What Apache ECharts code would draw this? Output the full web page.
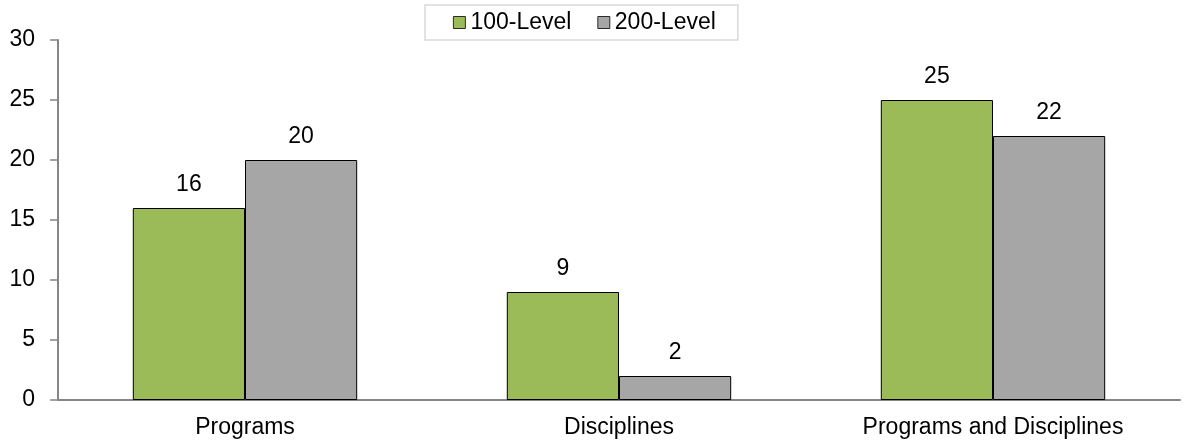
<!DOCTYPE html>
<html>
<head>
<meta charset="utf-8">
<script src="https://cdn.jsdelivr.net/npm/echarts@6/dist/echarts.min.js"></script>
<style>
  html, body { margin: 0; padding: 0; background: #fff; }
  #chart { width: 1185px; height: 442px; }
</style>
</head>
<body>
<div id="chart"></div>
<script>
// Course counts by category and level
const categories = ['Programs', 'Disciplines', 'Programs and Disciplines'];
const level100 = [16, 9, 25];
const level200 = [20, 2, 22];
const yTicks = { min: 0, max: 30, interval: 5 };

const font = '"Liberation Sans", Arial, sans-serif';
const fontSize = 23;
const chart = echarts.init(document.getElementById('chart'), null, { renderer: 'canvas' });

const barLabel = {
  show: true,
  position: 'top',
  distance: 12,
  color: '#000',
  fontSize: fontSize,
  fontFamily: font
};

chart.setOption({
  animation: false,
  legend: {
    top: 5,
    left: 425,
    padding: [6, 22, 6, 28],
    borderColor: '#D9D9D9',
    borderWidth: 1.5,
    itemWidth: 12,
    itemHeight: 12,
    itemGap: 26,
    textStyle: { fontSize: fontSize, fontFamily: font, color: '#000' },
    data: [
      { name: '100-Level', icon: 'rect', itemStyle: { borderColor: '#000', borderWidth: 0.8 } },
      { name: '200-Level', icon: 'rect', itemStyle: { borderColor: '#000', borderWidth: 0.8 } }
    ]
  },
  grid: { left: 58, right: 5, top: 40, bottom: 42, containLabel: false },
  xAxis: {
    type: 'category',
    data: categories,
    axisLine: { lineStyle: { color: '#868686', width: 2 } },
    axisTick: { show: false },
    axisLabel: { color: '#000', fontSize: fontSize, fontFamily: font, margin: 16 }
  },
  yAxis: {
    type: 'value',
    min: yTicks.min,
    max: yTicks.max,
    interval: yTicks.interval,
    axisLine: { show: true, lineStyle: { color: '#868686', width: 2 } },
    axisTick: { show: true, length: 8, lineStyle: { color: '#868686', width: 1.5 } },
    splitLine: { show: false },
    axisLabel: { color: '#000', fontSize: fontSize, fontFamily: font, margin: 23 }
  },
  series: [
    {
      name: '100-Level',
      type: 'bar',
      data: level100,
      barGap: '0%',
      barCategoryGap: '40%',
      itemStyle: { color: '#9BBB59', borderColor: '#000', borderWidth: 1 },
      label: barLabel
    },
    {
      name: '200-Level',
      type: 'bar',
      data: level200,
      itemStyle: { color: '#A6A6A6', borderColor: '#000', borderWidth: 1 },
      label: barLabel
    }
  ]
});
</script>
</body>
</html>
